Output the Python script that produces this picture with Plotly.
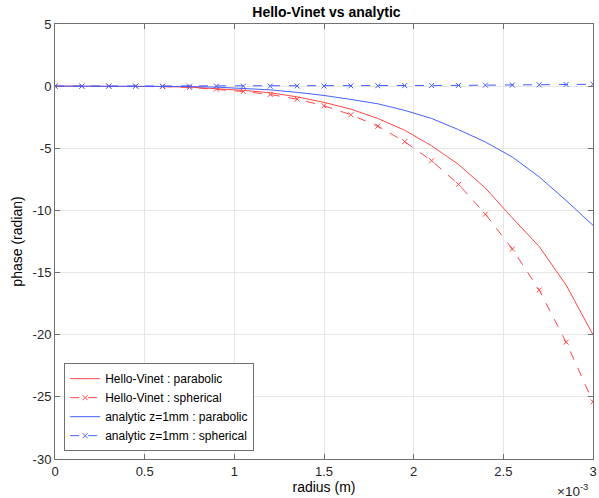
import plotly.graph_objects as go

radius_mm = [0, 0.15, 0.3, 0.45, 0.6, 0.75, 0.9, 1.05, 1.2, 1.35, 1.5,
             1.65, 1.8, 1.95, 2.1, 2.25, 2.4, 2.55, 2.7, 2.85, 3.0]
hv_parabolic = [0, 0, 0, -0.01, -0.03, -0.08, -0.18, -0.34, -0.53, -0.86, -1.31,
                -1.85, -2.6, -3.55, -4.8, -6.3, -8.2, -10.6, -12.9, -16.0, -20.0]
hv_spherical = [0, 0, 0, -0.01, -0.04, -0.1, -0.24, -0.43, -0.67, -1.05, -1.58,
                -2.3, -3.22, -4.47, -6.0, -7.9, -10.3, -13.1, -16.4, -20.6, -25.4]
an_parabolic = [0, 0, 0, 0, -0.01, -0.03, -0.08, -0.17, -0.3, -0.5, -0.75,
                -1.07, -1.42, -1.95, -2.6, -3.5, -4.5, -5.7, -7.3, -9.2, -11.2]
an_spherical = [0, 0, 0, 0, 0, 0, 0, 0, 0, 0.01, 0.01,
                0.02, 0.03, 0.04, 0.05, 0.06, 0.08, 0.09, 0.11, 0.13, 0.15]
x_ticks = [0, 0.5, 1, 1.5, 2, 2.5, 3]
y_ticks = [5, 0, -5, -10, -15, -20, -25, -30]

radius = [r * 1e-3 for r in radius_mm]
RED = "rgb(255,70,70)"
BLUE = "rgb(70,95,255)"

fig = go.Figure()
fig.add_trace(go.Scatter(x=radius, y=hv_parabolic, mode="lines",
                         name="Hello-Vinet : parabolic",
                         line=dict(color=RED, width=1)))
fig.add_trace(go.Scatter(x=radius, y=hv_spherical, mode="lines+markers",
                         name="Hello-Vinet : spherical",
                         line=dict(color=RED, width=1, dash="dash"),
                         marker=dict(symbol="x-thin", size=5,
                                     line=dict(color=RED, width=1))))
fig.add_trace(go.Scatter(x=radius, y=an_parabolic, mode="lines",
                         name="analytic z=1mm : parabolic",
                         line=dict(color=BLUE, width=1)))
fig.add_trace(go.Scatter(x=radius, y=an_spherical, mode="lines+markers",
                         name="analytic z=1mm : spherical",
                         line=dict(color=BLUE, width=1, dash="dash"),
                         marker=dict(symbol="x-thin", size=5,
                                     line=dict(color=BLUE, width=1))))

axis_common = dict(showgrid=True, gridcolor="#e6e6e6", gridwidth=1,
                   showline=True, linecolor="#707070", linewidth=1, mirror="ticks",
                   ticks="inside", ticklen=5, tickcolor="#707070",
                   zeroline=False, ticklabeloverflow="allow",
                   tickfont=dict(family="Liberation Sans, Arial, sans-serif",
                                 size=13, color="#262626"))

fig.update_layout(
    width=599, height=498,
    margin=dict(l=55, r=2, t=24, b=39),
    paper_bgcolor="white", plot_bgcolor="white",
    font=dict(family="Liberation Sans, Arial, sans-serif", size=13, color="#262626"),
    title=dict(text="<b>Hello-Vinet vs analytic</b>", x=0.545, xanchor="center",
               y=0.975, yanchor="middle",
               font=dict(size=14, color="black")),
    xaxis=dict(range=[0, 0.003], tickvals=[t * 1e-3 for t in x_ticks],
               ticktext=[str(t) for t in x_ticks],
               title=dict(text="radius (m)", standoff=2,
                          font=dict(size=14, color="black")),
               **axis_common),
    yaxis=dict(range=[-30, 5], tickvals=y_ticks,
               ticktext=[str(t) for t in y_ticks],
               title=dict(text="phase (radian)", standoff=6,
                          font=dict(size=14, color="black")),
               **axis_common),
    legend=dict(x=0.017, y=0.018, xanchor="left", yanchor="bottom",
                bgcolor="white", bordercolor="#707070", borderwidth=1,
                font=dict(size=12, color="black"), tracegroupgap=0,
                itemwidth=30),
    showlegend=True,
    annotations=[dict(text="×10<sup>-3</sup>", xref="paper", yref="paper",
                      x=0.995, y=-0.046, xanchor="right", yanchor="top",
                      showarrow=False, font=dict(size=13.5, color="#262626"))],
)

fig.write_html("out.html",
               config={"displayModeBar": False},
               post_script="document.body.style.margin='0';document.body.style.overflow='hidden';")
